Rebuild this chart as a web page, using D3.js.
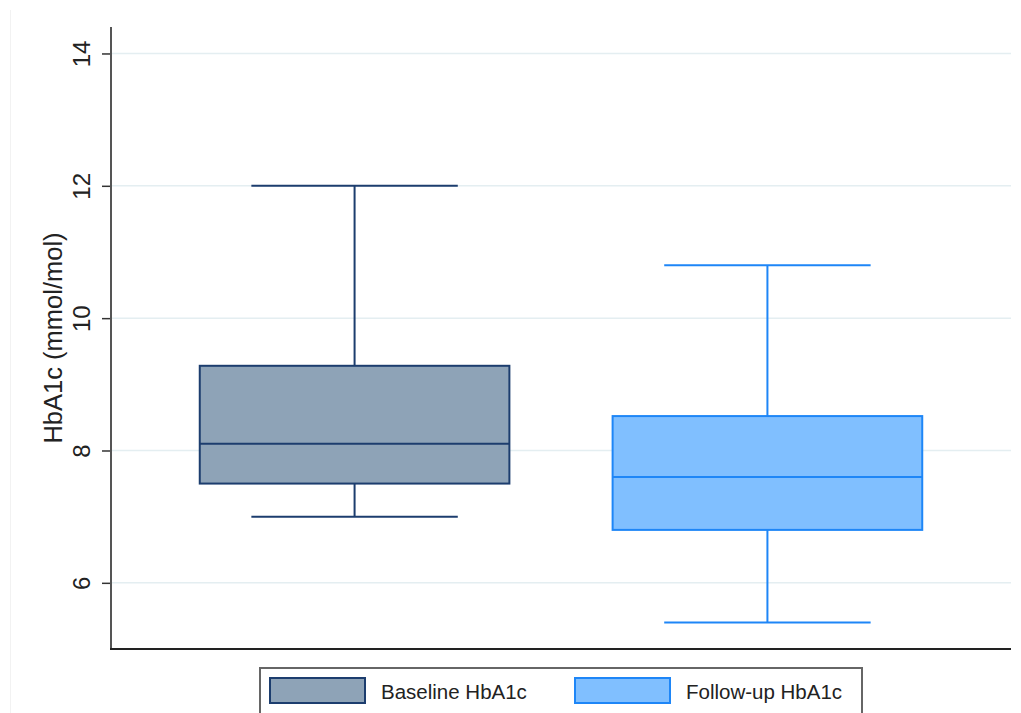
<!DOCTYPE html>
<html>
<head>
<meta charset="utf-8">
<script src="https://cdn.jsdelivr.net/npm/d3@7"></script>
<style>
  html, body { margin: 0; padding: 0; background: #fff; }
  svg { display: block; font-family: "Liberation Sans", Arial, Helvetica, sans-serif; }
</style>
</head>
<body>
<svg id="chart" width="1021" height="713"></svg>
<script>
// Box-plot summaries for HbA1c at baseline and follow-up
const groups = ["Baseline HbA1c", "Follow-up HbA1c"];
const whiskerLow  = [7.0, 5.4];
const q1          = [7.5, 6.8];
const median      = [8.1, 7.6];
const q3          = [9.28, 8.52];
const whiskerHigh = [12.0, 10.8];
const yTicks = [6, 8, 10, 12, 14];
const yTitle = "HbA1c (mmol/mol)";

const fills   = ["#8ea3b7", "#80bfff"];
const strokes = ["#1c3d6e", "#1e86f7"];

const W = 1021, H = 713;
const plot = { left: 111, right: 1011, top: 27, bottom: 649 };

const svg = d3.select("#chart");

const y = d3.scaleLinear().domain([5, 14.4]).range([plot.bottom, plot.top]);
const x = d3.scalePoint().domain(groups).range([plot.left, plot.right]).padding(0.59);
const step = x.step();
const boxW = step * 0.75;
const capW = step * 0.5;

// faint outer frame edge
svg.append("line")
  .attr("x1", 10.5).attr("x2", 10.5).attr("y1", 10).attr("y2", H)
  .attr("stroke", "#f2f2f2").attr("stroke-width", 1);

// horizontal gridlines
svg.append("g").selectAll("line").data(yTicks).join("line")
  .attr("x1", plot.left).attr("x2", plot.right)
  .attr("y1", d => y(d)).attr("y2", d => y(d))
  .attr("stroke", "#e4eef1").attr("stroke-width", 1.5);

// y axis
const yAxis = svg.append("g")
  .attr("transform", `translate(${plot.left},0)`)
  .call(d3.axisLeft(y).tickValues(yTicks).tickSize(9).tickPadding(0).tickFormat(d3.format("d")));
yAxis.select(".domain").remove();
yAxis.selectAll(".tick line").attr("stroke", "#333").attr("stroke-width", 1.5);
yAxis.selectAll(".tick text")
  .attr("x", null).attr("dy", null)
  .attr("text-anchor", "middle")
  .attr("dominant-baseline", "central")
  .attr("transform", `translate(-30,0) rotate(-90)`)
  .attr("font-size", 24).attr("fill", "#222")
  .style("font-family", "'Liberation Sans', Arial, sans-serif");

svg.append("line")
  .attr("x1", plot.left).attr("x2", plot.left)
  .attr("y1", plot.top).attr("y2", plot.bottom + 1)
  .attr("stroke", "#555").attr("stroke-width", 2);
svg.append("line")
  .attr("x1", plot.left - 1).attr("x2", plot.right)
  .attr("y1", plot.bottom).attr("y2", plot.bottom)
  .attr("stroke", "#222").attr("stroke-width", 2);

// y axis title
svg.append("text")
  .attr("transform", `translate(53,${(y(5) + y(14.4)) / 2}) rotate(-90)`)
  .attr("text-anchor", "middle")
  .attr("dominant-baseline", "central")
  .attr("font-size", 25.5).attr("fill", "#222")
  .text(yTitle);

// boxes
const data = groups.map((g, i) => ({
  g, i, lo: whiskerLow[i], q1: q1[i], med: median[i], q3: q3[i], hi: whiskerHigh[i]
}));

const box = svg.append("g").selectAll("g").data(data).join("g");

box.append("line")
  .attr("x1", d => x(d.g)).attr("x2", d => x(d.g))
  .attr("y1", d => y(d.hi)).attr("y2", d => y(d.q3))
  .attr("stroke", d => strokes[d.i]).attr("stroke-width", 2);
box.append("line")
  .attr("x1", d => x(d.g)).attr("x2", d => x(d.g))
  .attr("y1", d => y(d.q1)).attr("y2", d => y(d.lo))
  .attr("stroke", d => strokes[d.i]).attr("stroke-width", 2);
box.append("line")
  .attr("x1", d => x(d.g) - capW / 2).attr("x2", d => x(d.g) + capW / 2)
  .attr("y1", d => y(d.hi)).attr("y2", d => y(d.hi))
  .attr("stroke", d => strokes[d.i]).attr("stroke-width", 2);
box.append("line")
  .attr("x1", d => x(d.g) - capW / 2).attr("x2", d => x(d.g) + capW / 2)
  .attr("y1", d => y(d.lo)).attr("y2", d => y(d.lo))
  .attr("stroke", d => strokes[d.i]).attr("stroke-width", 2);
box.append("rect")
  .attr("x", d => x(d.g) - boxW / 2).attr("width", boxW)
  .attr("y", d => y(d.q3)).attr("height", d => y(d.q1) - y(d.q3))
  .attr("fill", d => fills[d.i])
  .attr("stroke", d => strokes[d.i]).attr("stroke-width", 2);
box.append("line")
  .attr("x1", d => x(d.g) - boxW / 2).attr("x2", d => x(d.g) + boxW / 2)
  .attr("y1", d => y(d.med)).attr("y2", d => y(d.med))
  .attr("stroke", d => strokes[d.i]).attr("stroke-width", 2);

// legend
const legend = svg.append("g").attr("transform", "translate(260,668)");
legend.append("rect")
  .attr("x", 0).attr("y", 0).attr("width", 602).attr("height", 70)
  .attr("fill", "#fff").attr("stroke", "#666").attr("stroke-width", 2);
const item = legend.selectAll("g.item").data(groups).join("g")
  .attr("class", "item")
  .attr("transform", (d, i) => `translate(${10 + i * 305},10)`);
item.append("rect")
  .attr("width", 95).attr("height", 25)
  .attr("fill", (d, i) => fills[i])
  .attr("stroke", (d, i) => strokes[i]).attr("stroke-width", 2);
item.append("text")
  .attr("x", 111).attr("y", 13)
  .attr("dominant-baseline", "central")
  .attr("font-size", 20.5).attr("fill", "#222")
  .text(d => d);
</script>
</body>
</html>
